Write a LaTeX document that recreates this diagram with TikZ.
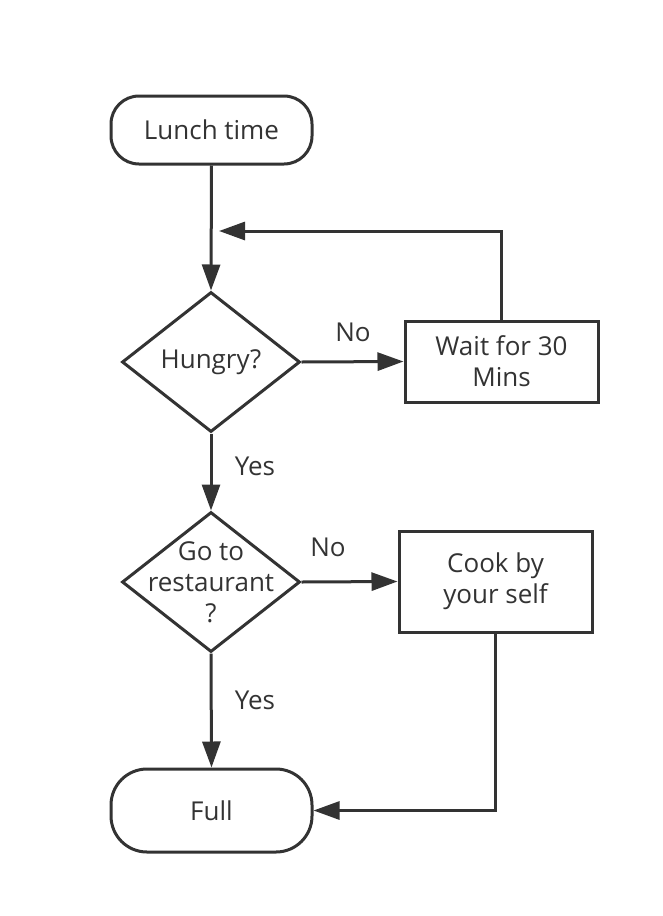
\documentclass[tikz,border=0pt]{standalone}
\usepackage{fontspec}
\setmainfont{Open Sans}
\usetikzlibrary{shapes.geometric,arrows.meta}
\definecolor{ink}{HTML}{333333}
\tikzset{
  every node/.style={text=ink, font=\fontsize{26}{31}\selectfont},
  flow/.style={draw=ink, line width=3pt, -{Triangle[length=26pt,width=18pt]}},
  term/.style={draw=ink, line width=3pt, minimum width=201pt, inner sep=0pt},
  proc/.style={draw=ink, line width=3pt, minimum width=193pt, inner sep=0pt, align=center},
  decide/.style={draw=ink, line width=3pt, diamond, minimum width=178pt, minimum height=140pt, inner sep=0pt},
  txt/.style={align=center, inner sep=0pt}
}
\begin{document}
\begin{tikzpicture}[x=1pt,y=-1pt]
\useasboundingbox (0,0) rectangle (662,916);
\node[term, minimum height=68pt, rounded corners=28pt] (lunch) at (211.5,130) {Lunch time};
\node[decide] (hungry) at (211,362) {};
\node[txt] (hungryt) at (211,362) {Hungry?};
\node[proc, minimum height=81pt] (wait) at (501.5,361.5) {Wait for 30\\Mins};
\node[decide] (go) at (211,582) {};
\node[txt] (got) at (211,582) {Go to\\restaurant\\?};
\node[proc, minimum height=101pt] (cook) at (495.5,581.5) {Cook by\\your self};
\node[term, minimum height=83pt, rounded corners=36pt] (full) at (211.5,810.5) {Full};
\coordinate (loopend) at (219,231);
\node[txt] (no1) at (353,332) {No};
\node[txt] (yes1) at (255,466) {Yes};
\node[txt] (no2) at (328,547) {No};
\node[txt] (yes2) at (255,700) {Yes};
\draw[flow] (lunch.south) -- (hungry.north);
\draw[flow] (hungry.east) -- (wait.west);
\draw[flow] (wait.north) |- (loopend);
\draw[flow] (hungry.south) -- (go.north);
\draw[flow] (go.east) -- (cook.west);
\draw[flow] (go.south) -- (full.north);
\draw[flow] (cook.south) |- (full.east);
\end{tikzpicture}
\end{document}
